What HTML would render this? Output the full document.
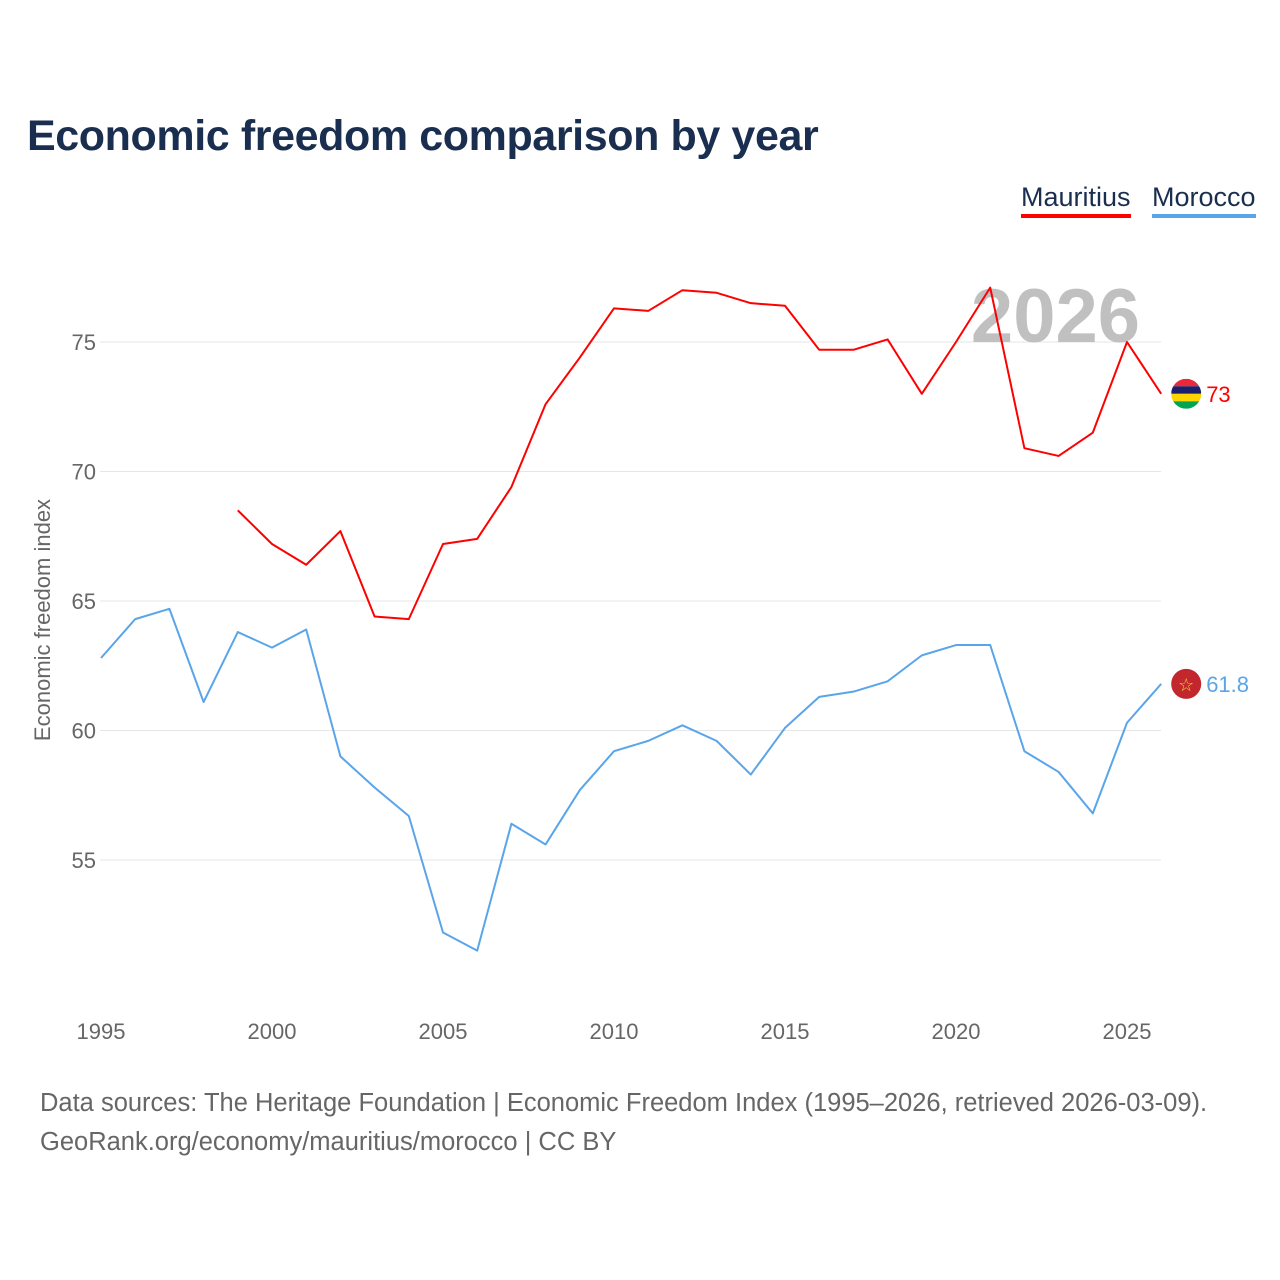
<!DOCTYPE html>
<html>
<head>
<meta charset="utf-8">
<style>
  html,body{margin:0;padding:0;background:#fff;}
  body{width:1280px;height:1280px;position:relative;overflow:hidden;font-family:"Liberation Sans",sans-serif;}
  #title{position:absolute;left:27px;top:112px;font-size:43px;font-weight:bold;color:#1a2e4f;margin:0;letter-spacing:-0.4px;}
  .leg{position:absolute;top:182px;font-size:27px;color:#1a2e4f;padding-bottom:1px;}
  #footer{position:absolute;left:40px;top:1084px;font-size:25.5px;color:#666;line-height:39px;}
  svg{position:absolute;left:0;top:0;}
</style>
</head>
<body>
<h1 id="title">Economic freedom comparison by year</h1>
<div class="leg" style="left:1021px;border-bottom:4px solid #ff0000;">Mauritius</div>
<div class="leg" style="left:1152px;border-bottom:4px solid #5aa5ea;">Morocco</div>
<svg id="chart" width="1280" height="1280"></svg>
<div id="footer">Data sources: The Heritage Foundation | Economic Freedom Index (1995–2026, retrieved 2026-03-09).<br>GeoRank.org/economy/mauritius/morocco | CC BY</div>
<script>
const mauritiusYears = [1999,2000,2001,2002,2003,2004,2005,2006,2007,2008,2009,2010,2011,2012,2013,2014,2015,2016,2017,2018,2019,2020,2021,2022,2023,2024,2025,2026];
const mauritiusValues = [68.5,67.2,66.4,67.7,64.4,64.3,67.2,67.4,69.4,72.6,74.4,76.3,76.2,77.0,76.9,76.5,76.4,74.7,74.7,75.1,73.0,75.0,77.1,70.9,70.6,71.5,75.0,73.0];
const moroccoYears = [1995,1996,1997,1998,1999,2000,2001,2002,2003,2004,2005,2006,2007,2008,2009,2010,2011,2012,2013,2014,2015,2016,2017,2018,2019,2020,2021,2022,2023,2024,2025,2026];
const moroccoValues = [62.8,64.3,64.7,61.1,63.8,63.2,63.9,59.0,57.8,56.7,52.2,51.5,56.4,55.6,57.7,59.2,59.6,60.2,59.6,58.3,60.1,61.3,61.5,61.9,62.9,63.3,63.3,59.2,58.4,56.8,60.3,61.8];
const yTicks = [55,60,65,70,75];
const xTicks = [1995,2000,2005,2010,2015,2020,2025];
const mauritiusLabel = "73";
const moroccoLabel = "61.8";

const NS="http://www.w3.org/2000/svg";
const svg=document.getElementById('chart');
function xs(yr){return 101+(yr-1995)*34.2;}
function ys(v){return 342+(75-v)*25.9;}
function mk(tag,attrs){const e=document.createElementNS(NS,tag);for(const k in attrs)e.setAttribute(k,attrs[k]);svg.appendChild(e);return e;}

yTicks.forEach(t=>{
  const g=mk('line',{x1:100,x2:1161,y1:ys(t),y2:ys(t),stroke:'#e6e6e6','stroke-width':1});
  
  
  const l=mk('text',{x:96,y:ys(t)+8,'text-anchor':'end','font-size':22,fill:'#666','font-family':'Liberation Sans, sans-serif'});
  l.textContent=t;
  
  
});
xTicks.forEach(t=>{
  const l=mk('text',{x:xs(t),y:1039,'text-anchor':'middle','font-size':22,fill:'#666','font-family':'Liberation Sans, sans-serif'});
  l.textContent=t;
  
  
});
const yt=mk('text',{x:0,y:0,transform:'translate(50,620) rotate(-90)','text-anchor':'middle','font-size':22,fill:'#666','font-family':'Liberation Sans, sans-serif'});
yt.textContent='Economic freedom index';



const yr=mk('text',{x:1140,y:342,'text-anchor':'end','font-size':76,'font-weight':'bold',fill:'#c0c0c0','font-family':'Liberation Sans, sans-serif'});
yr.textContent='2026';



function series(years,vals,color,name){
  const p=mk('polyline',{points:years.map((y,i)=>xs(y)+','+ys(vals[i])).join(' '),fill:'none',stroke:color,'stroke-width':2,'stroke-linejoin':'round'});
  
  
}
series(mauritiusYears,mauritiusValues,'#ff0000','mauritius');
series(moroccoYears,moroccoValues,'#5aa5ea','morocco');

const mY=ys(mauritiusValues[mauritiusValues.length-1]), mX=xs(2026)+25;
const defs=mk('defs',{});
const cp=document.createElementNS(NS,'clipPath');cp.setAttribute('id','mc');
const cc=document.createElementNS(NS,'circle');cc.setAttribute('cx',mX);cc.setAttribute('cy',mY);cc.setAttribute('r',15);
cp.appendChild(cc);defs.appendChild(cp);
const flag=mk('g',{'clip-path':'url(#mc)'});


['#ea2839','#1a206d','#ffd500','#00a551'].forEach((c,i)=>{
  const r=document.createElementNS(NS,'rect');
  r.setAttribute('x',mX-15);r.setAttribute('y',mY-15+i*7.5);r.setAttribute('width',30);r.setAttribute('height',7.5);r.setAttribute('fill',c);
  flag.appendChild(r);
});
const ml=mk('text',{x:mX+20,y:mY+8,'font-size':22,fill:'#ff0000','font-family':'Liberation Sans, sans-serif'});
ml.textContent=mauritiusLabel;



const oY=ys(moroccoValues[moroccoValues.length-1]), oX=xs(2026)+25;
const oc=mk('circle',{cx:oX,cy:oY,r:15,fill:'#c1272d'});


const st=mk('text',{x:oX,y:oY+7,'text-anchor':'middle','font-size':18,fill:'#f6d32d'});
st.textContent='☆';


const ol=mk('text',{x:oX+20,y:oY+8,'font-size':22,fill:'#5aa5ea','font-family':'Liberation Sans, sans-serif'});
ol.textContent=moroccoLabel;


</script>
</body>
</html>
